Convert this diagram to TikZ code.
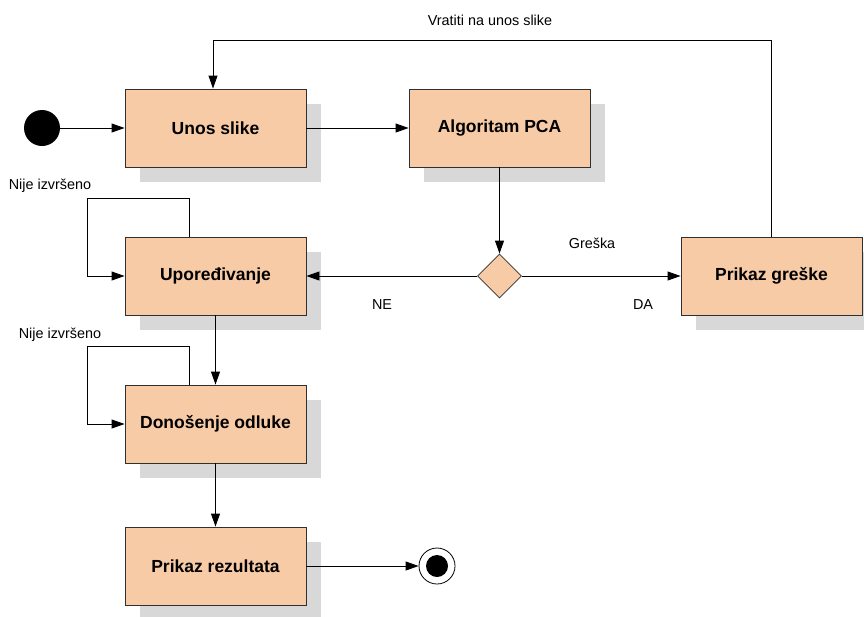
\documentclass[tikz,border=0pt]{standalone}
\usepackage{fontspec}
\setmainfont{Liberation Sans}
\usetikzlibrary{arrows.meta,shapes.geometric,shadows}
\definecolor{peach}{HTML}{F8CBA7}
\definecolor{shade}{HTML}{D8D8D8}
\definecolor{edge}{HTML}{303030}
\tikzset{
  activity/.style={draw=edge, line width=0.9pt, fill=peach,
    minimum width=181pt, minimum height=78pt, inner sep=0pt,
    font=\fontsize{17.5}{20}\selectfont\bfseries,
    general shadow={fill=shade, shadow xshift=15pt, shadow yshift=-15pt}},
  decision/.style={diamond, aspect=1, draw=edge, line width=0.8pt, fill=peach,
    minimum width=44pt, minimum height=44pt, inner sep=0pt},
  initial/.style={circle, fill=black, minimum size=36pt, inner sep=0pt},
  finalring/.style={circle, draw=black, line width=0.8pt, fill=white, minimum size=36pt, inner sep=0pt},
  finaldot/.style={circle, fill=black, minimum size=22pt, inner sep=0pt},
  flow/.style={draw=black, line width=0.9pt, -{Triangle[length=13pt,width=9pt]}},
  note/.style={font=\fontsize{14.4}{16}\selectfont, inner sep=0pt}
}
\begin{document}
\begin{tikzpicture}[x=1pt, y=-1pt]
  \useasboundingbox (0,0) rectangle (864,616);
  \clip (0,0) rectangle (864,616);

  % activities
  \node[activity] (unos)   at (215.5,128) {Unos slike};
  \node[activity] (pca)    at (499.5,128) {Algoritam PCA};
  \node[activity] (upor)   at (215.5,276) {Upoređivanje};
  \node[activity] (greska) at (771.5,276) {Prikaz greške};
  \node[activity] (dono)   at (215.5,424) {Donošenje odluke};
  \node[activity] (rez)    at (215.5,566) {Prikaz rezultata};

  % decision, start and end states
  \node[decision] (dec) at (499.5,276) {};
  \node[initial] (start) at (42,128) {};
  \node[finalring] (end) at (437,566) {};
  \node[finaldot] (enddot) at (437,566) {};

  % routing points
  \coordinate (ret) at (213,40);
  \coordinate (loopA) at (87,198);
  \coordinate (loopB) at (87,346);

  % main flow
  \draw[flow] (start) -- (unos);
  \draw[flow] (unos) -- (pca);
  \draw[flow] (pca.south) -- (dec.north);
  \draw[flow] (dec.west) -- (upor.east);
  \draw[flow] (dec.east) -- (greska.west);
  \draw[flow] (greska.north) |- (ret) -- (ret |- unos.north);
  \draw[flow] (upor.south) -- (dono.north);
  \draw[flow] (dono.south) -- (rez.north);
  \draw[flow] (rez.east) -- (end.west);

  % self loops
  \draw[flow] ([xshift=-26.5pt]upor.north) |- (loopA) |- (upor.west);
  \draw[flow] ([xshift=-26.5pt]dono.north) |- (loopB) |- (dono.west);

  % labels
  \node[note] (lret) at (490,20) {Vratiti na unos slike};
  \node[note] (lgr)  at (592,243) {Greška};
  \node[note] (lda)  at (643,305) {DA};
  \node[note] (lne)  at (382,305) {NE};
  \node[note] (lnA)  at (50,186) {Nije izvršeno};
  \node[note] (lnB)  at (60,335) {Nije izvršeno};
\end{tikzpicture}
\end{document}
